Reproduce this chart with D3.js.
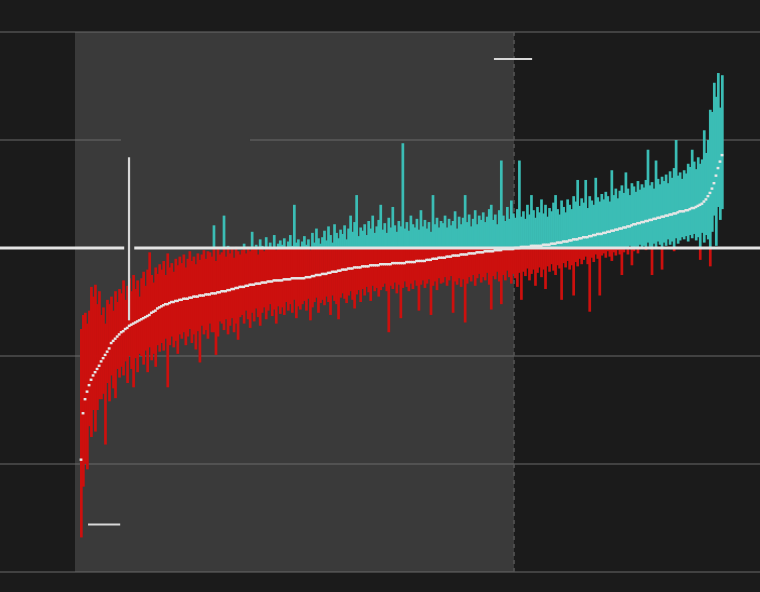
<!DOCTYPE html>
<html><head><meta charset="utf-8">
<script src="https://cdn.jsdelivr.net/npm/d3@7"></script>
<style>html,body{margin:0;padding:0;background:#1b1b1b;}svg{display:block;}</style>
</head><body>
<svg id="c" width="760" height="592"></svg>
<script>
// ---- data (value units: gridline spacing = 100) ----
const means = [
-196,-153,-140,-133,-127,-122,-118,-115,-112,-109,
-105,-102,-99,-96,-93,-88,-86,-84,-82,-80,
-78,-77,-75,-74,-72,-71,-70,-69,-68,-67,
-66,-65,-64,-63,-62,-60,-59,-58,-56,-55,
-54,-53,-52,-52,-51,-50,-50,-49,-49,-48,
-48,-47,-47,-47,-46,-46,-45,-45,-45,-44,
-44,-44,-43,-43,-43,-42,-42,-42,-41,-41,
-40,-40,-40,-39,-39,-38,-38,-37,-37,-36,
-36,-36,-35,-35,-34,-34,-34,-33,-33,-33,
-32,-32,-32,-31,-31,-31,-30,-30,-30,-30,
-30,-29,-29,-29,-29,-28,-28,-28,-28,-28,
-28,-28,-27,-27,-27,-26,-26,-25,-25,-25,
-24,-24,-24,-23,-23,-22,-22,-22,-21,-21,
-20,-20,-20,-19,-19,-19,-18,-18,-18,-18,
-17,-17,-17,-17,-16,-16,-16,-16,-16,-15,
-15,-15,-15,-15,-15,-14,-14,-14,-14,-14,
-14,-14,-13,-13,-13,-13,-13,-12,-12,-12,
-12,-12,-11,-11,-11,-10,-10,-10,-9,-9,
-9,-9,-8,-8,-8,-7,-7,-7,-7,-6,
-6,-6,-6,-5,-5,-5,-5,-4,-4,-4,
-4,-3,-3,-3,-3,-3,-2,-2,-2,-2,
-1,-1,-1,-1,-1,-1,0,0,0,1,
1,1,1,1,2,2,2,2,2,2,
3,3,3,3,4,4,4,5,5,5,
6,6,6,7,7,8,8,8,9,9,
10,10,10,11,11,12,12,13,13,13,
14,14,15,15,16,16,17,17,18,18,
19,19,20,20,21,22,22,23,23,24,
24,25,25,26,26,27,27,28,28,29,
29,30,30,31,31,32,32,33,34,34,
34,35,35,36,37,37,38,39,40,41,
43,45,48,51,55,60,67,74,80,86];
const highs = [
-75,-62,-60,-70,-58,-36,-45,-34,-52,-40,
-62,-55,-70,-48,-52,-45,-58,-40,-50,-38,
-42,-30,-48,-35,-28,-40,-25,-38,-30,-45,
-28,-22,-35,-20,-4,-25,-32,-18,-24,-15,
-20,-12,-25,-5,-18,-14,-22,-10,-16,-8,
-14,-6,-18,-10,-3,-12,-8,-15,-5,-11,
-6,-2,-10,-3,-4,-8,21,-12,-1,-6,
-4,30,-8,2,-5,-1,-9,1,-3,-6,
-2,4,-5,1,-3,15,-1,3,-6,8,
2,-3,10,-1,5,0,12,-2,4,7,
3,9,-1,6,12,2,40,5,8,0,
6,11,3,8,-2,14,5,18,9,4,
10,16,7,20,12,5,22,14,9,17,
13,21,8,18,30,15,24,49,11,19,
16,22,12,25,18,30,14,20,26,40,
17,23,14,28,19,38,21,15,25,20,
97,18,24,16,30,22,19,27,17,35,
20,26,18,24,15,49,22,28,19,25,
23,30,19,27,21,25,34,18,29,22,
28,49,24,31,20,27,35,22,30,26,
33,24,29,36,40,26,31,22,35,81,
30,25,38,27,44,32,28,36,81,29,
34,27,40,31,49,35,28,38,33,45,
32,40,29,37,34,42,49,36,31,44,
38,33,45,40,36,48,43,63,39,46,
42,63,37,48,44,40,65,47,43,50,
45,52,48,43,72,49,55,46,53,58,
51,70,55,49,60,57,52,62,54,59,
56,63,91,58,61,55,81,64,59,66,
62,68,60,71,65,74,100,67,70,64,
72,69,78,75,91,80,73,84,78,82,
109,88,100,128,126,153,140,162,130,160];
const lows = [
-268,-221,-200,-205,-165,-175,-150,-170,-150,-140,
-140,-135,-182,-125,-142,-118,-130,-139,-112,-120,
-110,-118,-105,-125,-100,-112,-129,-102,-115,-98,
-100,-108,-95,-115,-92,-104,-98,-110,-90,-96,
-88,-95,-84,-129,-90,-82,-92,-86,-98,-80,
-84,-78,-90,-82,-75,-88,-80,-94,-77,-106,
-72,-80,-76,-84,-70,-78,-78,-99,-82,-68,
-70,-76,-66,-80,-72,-65,-78,-70,-85,-64,
-62,-70,-58,-66,-74,-60,-68,-56,-64,-72,
-60,-55,-66,-58,-52,-63,-57,-70,-54,-61,
-55,-62,-50,-58,-52,-60,-48,-65,-54,-57,
-52,-49,-58,-47,-67,-55,-50,-46,-60,-51,
-48,-53,-45,-50,-62,-44,-49,-52,-66,-46,
-42,-47,-51,-44,-40,-48,-56,-43,-39,-50,
-38,-44,-36,-41,-49,-35,-40,-37,-45,-39,
-36,-33,-40,-78,-35,-38,-32,-42,-34,-65,
-37,-31,-36,-40,-33,-38,-30,-35,-58,-34,
-30,-37,-33,-29,-62,-35,-31,-39,-28,-33,
-32,-27,-35,-30,-26,-60,-31,-34,-28,-36,
-29,-69,-33,-27,-31,-25,-35,-28,-24,-32,
-27,-30,-23,-34,-57,-26,-29,-22,-31,-52,
-25,-30,-21,-27,-33,-24,-28,-36,-23,-48,
-22,-26,-19,-30,-24,-20,-35,-23,-18,-27,
-20,-38,-17,-22,-15,-21,-25,-16,-19,-48,
-14,-18,-12,-20,-16,-44,-13,-17,-10,-15,
-11,-8,-15,-59,-9,-13,-6,-10,-44,-7,
-5,-9,-3,-8,-12,-4,-7,-2,-6,-25,
-4,-1,-6,2,-16,-3,1,-5,3,0,
2,-2,5,1,-25,4,-1,6,3,-20,
5,2,8,3,6,-3,9,4,7,10,
8,11,6,12,9,13,7,10,-11,14,
5,12,8,-17,15,30,2,38,26,36];
const gridTicks = [-300,-200,-100,100,200];
const zeroLineGap = [22, 27];          // in item-index units
const labelGap = { x0: 20.4, x1: 84.6, v: 100 }; // covered stretch of the +100 gridline
const shade = [-2.5, 216];             // shaded (negative-mean) stretch, index units
const annotations = [
  { x0: 206, x1: 225, v0: 175, v1: 175 },
  { x0: 4, x1: 20, v0: -256, v1: -256 },
  { x0: 24.4, x1: 24.4, v0: 84, v1: -67 }
];

// ---- chart ----
const W = 760, H = 592, N = means.length;
const svg = d3.select('#c');
const y = d3.scaleLinear().domain([-300, 200]).range([572, 32]);
const xb = d3.scaleBand().domain(d3.range(N)).range([80, 723]).padding(0);
const xl = d3.scaleLinear().domain([0, N]).range([80, 723]);
const data = means.map((m, i) => ({ i, m, hi: highs[i], lo: lows[i] }));

svg.append('rect').attr('width', W).attr('height', H).attr('fill', '#1b1b1b');
svg.append('rect').attr('x', xl(shade[0])).attr('y', y(200))
  .attr('width', xl(shade[1]) - xl(shade[0])).attr('height', y(-300) - y(200))
  .attr('fill', '#3a3a3a');

svg.append('g').selectAll('line').data(gridTicks).join('line')
  .attr('x1', 0).attr('x2', W).attr('y1', d => y(d)).attr('y2', d => y(d))
  .attr('stroke', '#6a6a6a').attr('stroke-width', 1.2);

svg.append('rect').attr('x', xl(labelGap.x0)).attr('y', y(labelGap.v) - 2)
  .attr('width', xl(labelGap.x1) - xl(labelGap.x0)).attr('height', 4).attr('fill', '#3a3a3a');

svg.append('line').attr('x1', xl(shade[1])).attr('x2', xl(shade[1]))
  .attr('y1', y(200)).attr('y2', y(-300))
  .attr('stroke', '#555').attr('stroke-width', 1.5).attr('stroke-dasharray', '4,4');

const bw = xb.bandwidth();
svg.append('g').selectAll('rect').data(data.filter(d => d.lo < 0)).join('rect')
  .attr('x', d => xb(d.i)).attr('width', bw + 0.7)
  .attr('y', d => y(Math.min(d.hi, 0))).attr('height', d => y(d.lo) - y(Math.min(d.hi, 0)))
  .attr('fill', '#cc100e');
svg.append('g').selectAll('rect').data(data.filter(d => d.hi > 0)).join('rect')
  .attr('x', d => xb(d.i)).attr('width', bw + 0.7)
  .attr('y', d => y(d.hi)).attr('height', d => y(Math.max(d.lo, 0)) - y(d.hi))
  .attr('fill', '#3bbdb5');

// zero line with gap
svg.append('line').attr('x1', 0).attr('x2', xl(zeroLineGap[0])).attr('y1', y(0)).attr('y2', y(0))
  .attr('stroke', '#e4e4e4').attr('stroke-width', 3);
svg.append('line').attr('x1', xl(zeroLineGap[1])).attr('x2', W).attr('y1', y(0)).attr('y2', y(0))
  .attr('stroke', '#e4e4e4').attr('stroke-width', 3);

svg.append('g').selectAll('rect').data(data).join('rect')
  .attr('x', d => xb(d.i) - 0.4).attr('width', bw + 0.8)
  .attr('y', d => y(d.m) - 1.2).attr('height', 2.4)
  .attr('fill', '#e6e6e6');

svg.append('g').selectAll('line').data(annotations).join('line')
  .attr('x1', d => xl(d.x0)).attr('x2', d => xl(d.x1))
  .attr('y1', d => y(d.v0)).attr('y2', d => y(d.v1))
  .attr('stroke', '#d8d8d8').attr('stroke-width', 2.2);
</script>
</body></html>
